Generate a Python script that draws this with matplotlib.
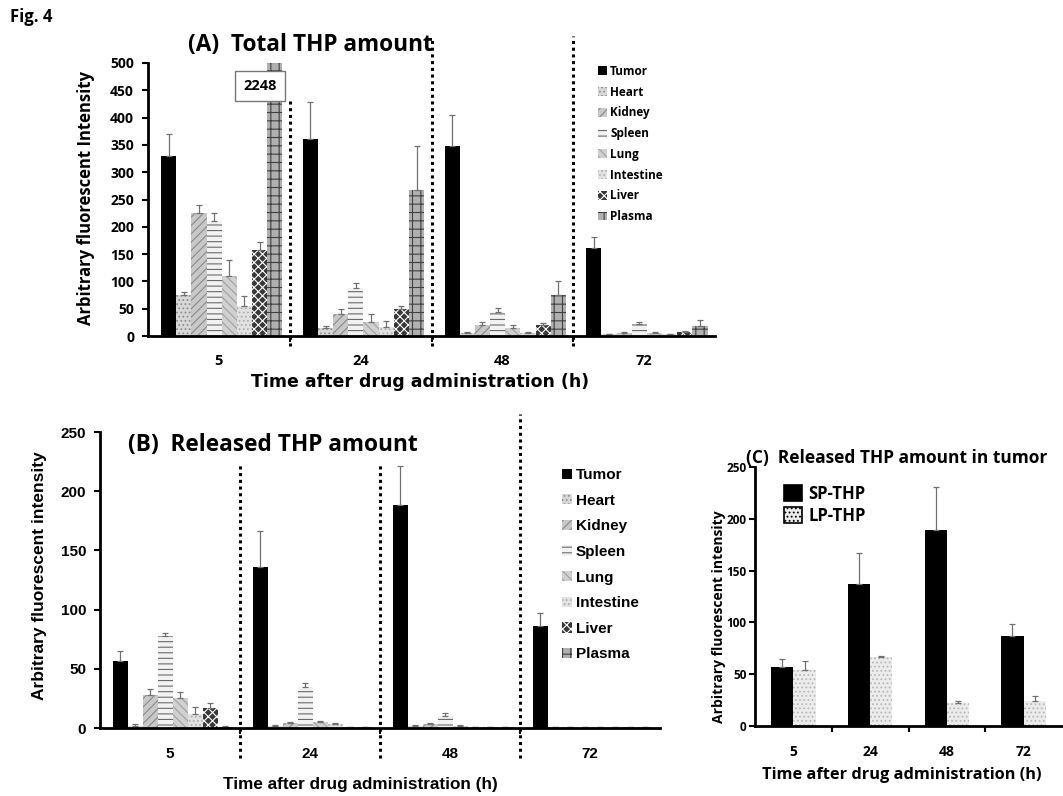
import numpy as np
import matplotlib
matplotlib.use('Agg')
import matplotlib.pyplot as plt

plt.rcParams['hatch.linewidth'] = 0.8

W, H = 1063, 796
SANS = 'Open Sans'
ARIAL = 'Liberation Sans'
WIDE = 'DejaVu Sans'

organs = ['Tumor', 'Heart', 'Kidney', 'Spleen', 'Lung', 'Intestine', 'Liver', 'Plasma']
times = ['5', '24', '48', '72']

# (A) total THP amount, one list per organ over 5/24/48/72 h
total_tumor = [330, 360, 348, 162]
total_heart = [75, 15, 5, 3]
total_kidney = [225, 40, 20, 5]
total_spleen = [210, 87, 44, 22]
total_lung = [110, 26, 15, 5]
total_intestine = [55, 16, 5, 3]
total_liver = [158, 50, 20, 8]
total_plasma = [2248, 268, 75, 18]

total_err_tumor = [40, 68, 57, 20]
total_err_heart = [5, 4, 3, 1]
total_err_kidney = [15, 10, 5, 2]
total_err_spleen = [15, 10, 8, 3]
total_err_lung = [30, 14, 5, 2]
total_err_intestine = [18, 12, 3, 1]
total_err_liver = [15, 5, 4, 2]
total_err_plasma = [0, 80, 25, 12]

# (B) released THP amount
rel_tumor = [57, 136, 188, 86]
rel_heart = [2, 2, 2, 1]
rel_kidney = [28, 4, 3, 1]
rel_spleen = [78, 35, 10, 1]
rel_lung = [25, 5, 2, 1]
rel_intestine = [12, 3, 1, 0.5]
rel_liver = [17, 1, 1, 0.5]
rel_plasma = [1, 1, 1, 0.5]

rel_err_tumor = [8, 30, 33, 11]
rel_err_heart = [1, 0.5, 0.5, 0]
rel_err_kidney = [5, 1, 1, 0]
rel_err_spleen = [2, 3, 3, 0]
rel_err_lung = [5, 1, 0.5, 0]
rel_err_intestine = [6, 1, 0, 0]
rel_err_liver = [4, 0, 0, 0]
rel_err_plasma = [0.5, 0, 0, 0]

# (C) released THP amount in tumor
sp_thp = [57, 137, 189, 87]
sp_err = [8, 30, 42, 11]
lp_thp = [54, 67, 22, 24]
lp_err = [9, 1, 2, 5]

total_vals = [total_tumor, total_heart, total_kidney, total_spleen,
              total_lung, total_intestine, total_liver, total_plasma]
total_errs = [total_err_tumor, total_err_heart, total_err_kidney, total_err_spleen,
              total_err_lung, total_err_intestine, total_err_liver, total_err_plasma]
rel_vals = [rel_tumor, rel_heart, rel_kidney, rel_spleen,
            rel_lung, rel_intestine, rel_liver, rel_plasma]
rel_errs = [rel_err_tumor, rel_err_heart, rel_err_kidney, rel_err_spleen,
            rel_err_lung, rel_err_intestine, rel_err_liver, rel_err_plasma]

styles = [
    dict(facecolor='black', edgecolor='black', hatch=None),
    dict(facecolor='#d8d8d8', edgecolor='#909090', hatch='....'),
    dict(facecolor='#c8c8c8', edgecolor='#8a8a8a', hatch='////'),
    dict(facecolor='#f2f2f2', edgecolor='#6a6a6a', hatch='---'),
    dict(facecolor='#d0d0d0', edgecolor='#a0a0a0', hatch='\\\\\\\\'),
    dict(facecolor='#e2e2e2', edgecolor='#b0b0b0', hatch='....'),
    dict(facecolor='#383838', edgecolor='white', hatch='xxxx'),
    dict(facecolor='#b0b0b0', edgecolor='#404040', hatch='++'),
]


def fx(x):
    return x / W


def fy(y):
    return 1 - y / H


def ax_rect(l, t, r, b):
    return [fx(l), fy(b), (r - l) / W, (b - t) / H]


def style_axes(ax, font, size, pad=3):
    for s in ['top', 'right']:
        ax.spines[s].set_visible(False)
    for s in ['left', 'bottom']:
        ax.spines[s].set_linewidth(2)
        ax.spines[s].set_color('black')
    ax.tick_params(axis='y', length=4, width=1.5, labelsize=size, pad=pad)
    for lab in ax.get_yticklabels() + ax.get_xticklabels():
        lab.set_fontfamily(font)
        lab.set_fontweight('bold')


def organ_bars(ax, vals, errs):
    x = np.arange(len(times))
    w = 0.107
    handles = []
    for i, (v, e, st) in enumerate(zip(vals, errs, styles)):
        pos = x + (i - 3.5) * w + 0.02
        b = ax.bar(pos, v, w, linewidth=0, label=organs[i], **st)
        ax.errorbar(pos, v, yerr=[np.zeros(len(e)), e], fmt='none',
                    ecolor='#707070', elinewidth=0.9, capsize=2, capthick=0.9)
        handles.append(b)
    ax.set_xlim(-0.5, len(times) - 0.5)
    ax.set_xticks(x)
    ax.set_xticklabels(times)
    ax.set_xticks(x[:-1] + 0.5, minor=True)
    ax.tick_params(axis='x', which='major', length=0)
    ax.tick_params(axis='x', which='minor', length=4, width=1.5)
    return handles


def separators(ax, x_vals, tops, bottom):
    for xv, t in zip(x_vals, tops):
        ax.axvline(xv, ymin=bottom, ymax=t, color='black', lw=2.2,
                   linestyle=(0, (1, 1.2)), clip_on=False, zorder=5)


fig = plt.figure(figsize=(W / 100, H / 100), dpi=100)

# ---------- (A) ----------
axA = fig.add_axes(ax_rect(148, 63, 715, 336))
hA = organ_bars(axA, total_vals, total_errs)
axA.set_ylim(0, 500)
axA.set_yticks(np.arange(0, 501, 50))
axA.tick_params(axis='x', which='major', pad=13, labelsize=10.5)
style_axes(axA, SANS, 10, pad=6)
separators(axA, [0.5, 1.5, 2.5], [0.86, 1.085, 1.1], -0.035)
axA.text(0.29, 458, '2248', ha='center', va='center', fontsize=10.5,
         fontweight='bold', family=SANS,
         bbox=dict(boxstyle='square,pad=0.55', fc='white', ec='#777777', lw=1))
axA.legend(handles=hA, loc='upper left', bbox_to_anchor=(fx(593), fy(60)),
           bbox_transform=fig.transFigure, frameon=False, borderaxespad=0,
           prop=dict(family=SANS, weight='bold', size=8.5),
           handlelength=0.75, handleheight=0.75, handletextpad=0.3,
           labelspacing=0.66)

fig.text(fx(10), fy(17), 'Fig. 4', fontsize=12, fontweight='bold',
         family=SANS, va='center')
fig.text(fx(188), fy(45), '(A)  Total THP amount', fontsize=16.3,
         fontweight='bold', family=SANS, va='center')
fig.text(fx(86), fy(198), 'Arbitrary fluorescent Intensity', rotation=90,
         fontsize=12, fontweight='bold', family=SANS, ha='center', va='center')
fig.text(fx(420), fy(382), 'Time after drug administration (h)', fontsize=12.5,
         fontweight='bold', family=WIDE, ha='center', va='center')

# ---------- (B) ----------
axB = fig.add_axes(ax_rect(100, 432, 660, 728))
hB = organ_bars(axB, rel_vals, rel_errs)
axB.set_ylim(0, 250)
axB.set_yticks(np.arange(0, 251, 50))
axB.tick_params(axis='x', which='major', pad=14, labelsize=11)
style_axes(axB, ARIAL, 11, pad=6)
separators(axB, [0.5, 1.5, 2.5], [0.895, 0.89, 1.06], -0.1)
axB.legend(handles=hB, loc='upper left', bbox_to_anchor=(fx(556), fy(462)),
           bbox_transform=fig.transFigure, frameon=False, borderaxespad=0,
           prop=dict(family=ARIAL, weight='bold', size=11),
           handlelength=0.65, handleheight=0.65, handletextpad=0.25,
           labelspacing=0.76)

fig.text(fx(128), fy(445), '(B)  Released THP amount', fontsize=16.3,
         fontweight='bold', family=SANS, va='center')
fig.text(fx(40), fy(576), 'Arbitrary fluorescent intensity', rotation=90,
         fontsize=12.5, fontweight='bold', family=ARIAL,
         ha='center', va='center')
fig.text(fx(360), fy(785), 'Time after drug administration (h)', fontsize=12.3,
         fontweight='bold', family=ARIAL, ha='center', va='center')

# ---------- (C) ----------
axC = fig.add_axes(ax_rect(755, 467, 1062, 726))
xc = np.arange(len(times))
wc = 0.29
bs = axC.bar(xc - wc / 2, sp_thp, wc, color='black', label='SP-THP')
bl = axC.bar(xc + wc / 2, lp_thp, wc, facecolor='#ececec', edgecolor='#b8b8b8',
             hatch='....', linewidth=0, label='LP-THP')
axC.errorbar(xc - wc / 2, sp_thp, yerr=[np.zeros(4), sp_err], fmt='none',
             ecolor='#707070', elinewidth=0.9, capsize=2.5, capthick=0.9)
axC.errorbar(xc + wc / 2, lp_thp, yerr=[np.zeros(4), lp_err], fmt='none',
             ecolor='#707070', elinewidth=0.9, capsize=2.5, capthick=0.9)
axC.set_xlim(-0.5, 3.5)
axC.set_ylim(0, 250)
axC.set_yticks(np.arange(0, 251, 50))
axC.set_xticks(xc)
axC.set_xticklabels(times)
axC.set_xticks(xc[:-1] + 0.5, minor=True)
axC.tick_params(axis='x', which='major', length=0, pad=14, labelsize=10)
axC.tick_params(axis='x', which='minor', length=4, width=1.5)
style_axes(axC, SANS, 8.5, pad=2)
axC.legend(handles=[bs, bl], loc='upper left', bbox_to_anchor=(fx(777), fy(478)),
           bbox_transform=fig.transFigure, frameon=False, borderaxespad=0,
           prop=dict(family=SANS, weight='bold', size=12),
           handlelength=1.1, handleheight=1.1, handletextpad=0.4,
           labelspacing=0.25)
for p in axC.get_legend().get_patches():
    p.set_edgecolor('black')
    p.set_linewidth(1.2)

fig.text(fx(746), fy(458), '(C)  Released THP amount in tumor', fontsize=12.5,
         fontweight='bold', family=SANS, va='center')
fig.text(fx(719), fy(617), 'Arbitrary fluorescent intensity', rotation=90,
         fontsize=10, fontweight='bold', family=SANS, ha='center', va='center')
fig.text(fx(902), fy(775), 'Time after drug administration (h)', fontsize=11.8,
         fontweight='bold', family=SANS, ha='center', va='center')

fig.savefig('out.png', dpi=100)
